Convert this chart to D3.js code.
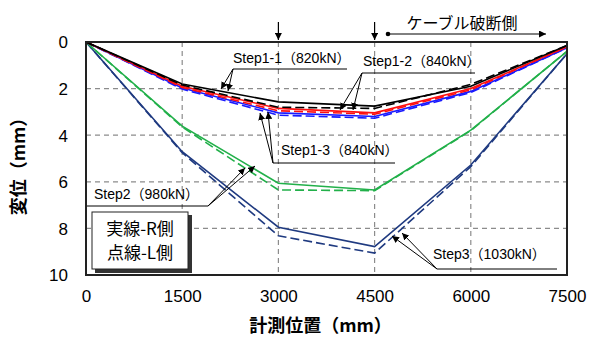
<!DOCTYPE html>
<html>
<head>
<meta charset="utf-8">
<script src="https://cdn.jsdelivr.net/npm/d3@7"></script>
<style>
  html, body { margin: 0; padding: 0; background: #fff; }
  svg { display: block; }
  text { font-family: "Liberation Sans", Arial, "Noto Sans CJK JP", sans-serif; fill: #000; }
  .jp { font-family: "Noto Sans CJK JP", "Liberation Sans", sans-serif; }
</style>
</head>
<body>
<svg id="chart" width="592" height="338"></svg>
<script>
// Measurement positions along the girder (mm)
const positions = [0, 1500, 3000, 4500, 6000, 7500];
const xTicks = [0, 1500, 3000, 4500, 6000, 7500];
const yTicks = [0, 2, 4, 6, 8, 10];

// Displacement (mm): R side = solid, L side = dashed
const step1_1R = [0, 1.80, 2.57, 2.75, 1.90, 0.15];
const step1_1L = [0, 1.85, 2.80, 2.85, 1.82, 0.15];
const step1_2R = [0, 1.90, 2.85, 3.04, 2.00, 0.20];
const step1_2L = [0, 1.95, 2.95, 3.10, 2.05, 0.20];
const step1_3R = [0, 1.97, 3.04, 3.20, 2.12, 0.25];
const step1_3L = [0, 2.02, 3.14, 3.27, 2.17, 0.25];
const step2R   = [0, 3.61, 6.06, 6.35, 3.78, 0.40];
const step2L   = [0, 3.65, 6.35, 6.38, 3.80, 0.40];
const step3R   = [0, 4.71, 7.95, 8.78, 5.28, 0.50];
const step3L   = [0, 4.75, 8.32, 9.06, 5.35, 0.50];

const seriesList = [
  { values: step3L,   color: "#1f3a80", dashed: true },
  { values: step3R,   color: "#1f3a80", dashed: false },
  { values: step2L,   color: "#22b04a", dashed: true },
  { values: step2R,   color: "#22b04a", dashed: false },
  { values: step1_3L, color: "#1a1aff", dashed: true },
  { values: step1_3R, color: "#1a1aff", dashed: false },
  { values: step1_2L, color: "#ff1010", dashed: true },
  { values: step1_2R, color: "#ff1010", dashed: false },
  { values: step1_1L, color: "#000000", dashed: true },
  { values: step1_1R, color: "#000000", dashed: false }
];

const svg = d3.select("#chart");
const plotL = 86, plotR = 567, plotT = 42, plotB = 275;

const x = d3.scaleLinear().domain([0, 7500]).range([plotL, plotR]);
const y = d3.scaleLinear().domain([0, 10]).range([plotT, plotB]);

// arrow markers
const defs = svg.append("defs");
defs.append("marker").attr("id", "arr").attr("viewBox", "0 0 10 10")
  .attr("refX", 10).attr("refY", 5).attr("markerWidth", 7).attr("markerHeight", 7)
  .attr("markerUnits", "userSpaceOnUse").attr("orient", "auto")
  .append("path").attr("d", "M0,0 L10,5 L0,10 z").attr("fill", "#000");

// grid
const grid = svg.append("g");
grid.selectAll(".gx").data(xTicks.slice(1, -1)).enter().append("line")
  .attr("x1", d => x(d)).attr("x2", d => x(d)).attr("y1", plotT).attr("y2", plotB)
  .attr("stroke", "#8c8c8c").attr("stroke-width", 1.2).attr("stroke-dasharray", "5,4");
grid.selectAll(".gy").data(yTicks.slice(1, -1)).enter().append("line")
  .attr("x1", plotL).attr("x2", plotR).attr("y1", d => y(d)).attr("y2", d => y(d))
  .attr("stroke", "#8c8c8c").attr("stroke-width", 1.2).attr("stroke-dasharray", "5,4");

// axes (labels only; frame drawn separately)
const xAxis = d3.axisBottom(x).tickValues(xTicks).tickFormat(d3.format("d")).tickSize(0).tickPadding(0);
const gx = svg.append("g").attr("transform", `translate(0,${plotB})`).call(xAxis);
gx.select(".domain").remove();
gx.selectAll("text").attr("y", 27).attr("dy", 0).attr("font-size", 17)
  .style("font-family", "'Liberation Sans', Arial, sans-serif");

const yAxis = d3.axisLeft(y).tickValues(yTicks).tickFormat(d3.format("d")).tickSize(0).tickPadding(18);
const gy = svg.append("g").attr("transform", `translate(${plotL},0)`).call(yAxis);
gy.select(".domain").remove();
gy.selectAll("text").attr("font-size", 17).attr("dy", "0.35em")
  .style("font-family", "'Liberation Sans', Arial, sans-serif");

// lines
const line = d3.line().x((d, i) => x(positions[i])).y(d => y(d));
svg.append("g").selectAll("path").data(seriesList).enter().append("path")
  .attr("d", d => line(d.values))
  .attr("fill", "none")
  .attr("stroke", d => d.color)
  .attr("stroke-width", 1.6)
  .attr("stroke-dasharray", d => d.dashed ? "9,4" : null);

// frame
svg.append("rect").attr("x", plotL).attr("y", plotT).attr("width", plotR - plotL).attr("height", plotB - plotT)
  .attr("fill", "none").attr("stroke", "#222").attr("stroke-width", 2);

// annotation helper: underline + leader arrows
function callout(label, tx, ty, ux1, ux2, uy, anchorX, tips) {
  const g = svg.append("g");
  g.append("text").attr("x", tx).attr("y", ty).attr("font-size", 14).text(label);
  g.append("line").attr("x1", ux1).attr("x2", ux2).attr("y1", uy).attr("y2", uy)
    .attr("stroke", "#000").attr("stroke-width", 1);
  tips.forEach(t => {
    g.append("line").attr("x1", anchorX).attr("y1", uy).attr("x2", t[0]).attr("y2", t[1])
      .attr("stroke", "#000").attr("stroke-width", 1).attr("marker-end", "url(#arr)");
  });
}

callout("Step1-1（820kN）", 233, 63, 233, 347, 69, 233, [[221, 89], [228, 91]]);
callout("Step1-2（840kN）", 363, 66, 362, 475, 73, 362, [[340, 110], [353, 110]]);
callout("Step1-3（840kN）", 281, 155, 273, 395, 163, 273, [[260, 113], [268, 112]]);
callout("Step2（980kN）", 94, 199, 87, 208, 206, 208, [[245, 168], [255, 166]]);
callout("Step3（1030kN）", 433, 259, 437, 557, 269, 437, [[392, 236], [402, 233]]);

// top markers
[3000, 4500].forEach(v => {
  svg.append("line").attr("x1", x(v)).attr("x2", x(v)).attr("y1", 22).attr("y2", 40)
    .attr("stroke", "#000").attr("stroke-width", 1.2).attr("marker-end", "url(#arr)");
});
svg.append("circle").attr("cx", 388).attr("cy", 34).attr("r", 2.3).attr("fill", "#000");
svg.append("line").attr("x1", 388).attr("x2", 546).attr("y1", 34).attr("y2", 34)
  .attr("stroke", "#000").attr("stroke-width", 1).attr("marker-end", "url(#arr)");
svg.append("text").attr("class", "jp").attr("x", 462).attr("y", 29).attr("text-anchor", "middle")
  .attr("font-size", 16).text("ケーブル破断側");

// legend box with shadow
svg.append("rect").attr("x", 95).attr("y", 215).attr("width", 97).attr("height", 58).attr("fill", "#333");
svg.append("rect").attr("x", 92).attr("y", 212).attr("width", 96).attr("height", 57)
  .attr("fill", "#fff").attr("stroke", "#222").attr("stroke-width", 1);
svg.append("text").attr("class", "jp").attr("x", 140).attr("y", 235).attr("text-anchor", "middle")
  .attr("font-size", 17).text("実線-R側");
svg.append("text").attr("class", "jp").attr("x", 140).attr("y", 259).attr("text-anchor", "middle")
  .attr("font-size", 17).text("点線-L側");

// axis titles
svg.append("text").attr("class", "jp").attr("x", (plotL + plotR) / 2 - 6).attr("y", 332)
  .attr("text-anchor", "middle").attr("font-size", 18).attr("font-weight", "bold").text("計測位置（mm）");
svg.append("text").attr("class", "jp").attr("transform", "translate(25,162) rotate(-90)")
  .attr("text-anchor", "middle").attr("font-size", 18).attr("font-weight", "bold").text("変位（mm）");
</script>
</body>
</html>
